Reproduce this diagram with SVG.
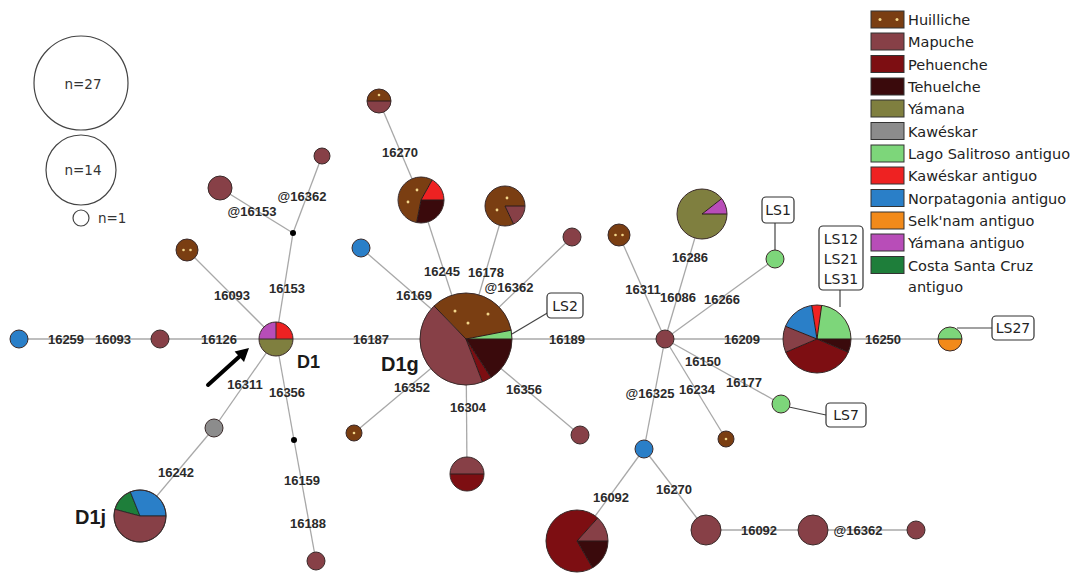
<svg xmlns="http://www.w3.org/2000/svg" width="1087" height="574" viewBox="0 0 1087 574">
<style>
.e{stroke:#a8a8a8;stroke-width:1.3;fill:none}
.b{stroke:#444;stroke-width:1.2;fill:none}
.n{stroke:#3a2a2a;stroke-width:1}
.hu{fill:#7a3e12}.ma{fill:#874047}.pe{fill:#7d0e12}.te{fill:#3a0a0c}.ya{fill:#7f7f3f}.ka{fill:#8c8c8c}
.ls{fill:#7dd67a}.kr{fill:#ee2222}.no{fill:#2a7fc8}.se{fill:#f28a1a}.ym{fill:#b84db8}.co{fill:#1e7e3a}
.dot{fill:#f3d68a}
.lb{font-family:"Liberation Sans",Arial,sans-serif;font-weight:bold;font-size:13px;fill:#2a2a2a;text-anchor:middle}
.hd{font-family:"Liberation Sans",Arial,sans-serif;font-weight:bold;fill:#1a1a1a}
.lg{font-family:"DejaVu Sans",Verdana,sans-serif;font-size:14.5px;fill:#222}
.bx{fill:#fff;stroke:#333;stroke-width:1.2}
.bt{font-family:"DejaVu Sans",Verdana,sans-serif;font-size:14px;fill:#222;text-anchor:middle}
.sz{fill:none;stroke:#444;stroke-width:1.2}
.szt{font-family:"DejaVu Sans",Verdana,sans-serif;font-size:13.5px;fill:#333}
</style>

<g id="size-legend">
<circle class="sz" cx="81" cy="83" r="47"/>
<text class="szt" x="83" y="89" text-anchor="middle">n=27</text>
<circle class="sz" cx="81" cy="170" r="35"/>
<text class="szt" x="83" y="175" text-anchor="middle">n=14</text>
<circle class="sz" cx="81" cy="218" r="8"/>
<text class="szt" x="98" y="223">n=1</text>
</g>

<g id="legend">
<rect class="hu" x="871" y="11" width="33" height="17" stroke="#333"/>
<circle class="dot" cx="880" cy="19.5" r="1.5"/><circle class="dot" cx="897" cy="19.5" r="1.5"/>
<rect class="ma" x="871" y="33" width="33" height="17" stroke="#333"/>
<rect class="pe" x="871" y="55.5" width="33" height="17" stroke="#333"/>
<rect class="te" x="871" y="78" width="33" height="17" stroke="#333"/>
<rect class="ya" x="871" y="100" width="33" height="17" stroke="#333"/>
<rect class="ka" x="871" y="122.5" width="33" height="17" stroke="#333"/>
<rect class="ls" x="871" y="145" width="33" height="17" stroke="#333"/>
<rect class="kr" x="871" y="167" width="33" height="17" stroke="#333"/>
<rect class="no" x="871" y="189.5" width="33" height="17" stroke="#333"/>
<rect class="se" x="871" y="212" width="33" height="17" stroke="#333"/>
<rect class="ym" x="871" y="234" width="33" height="17" stroke="#333"/>
<rect class="co" x="871" y="256.5" width="33" height="17" stroke="#333"/>
<text class="lg" x="908" y="25">Huilliche</text>
<text class="lg" x="908" y="47">Mapuche</text>
<text class="lg" x="908" y="69.5">Pehuenche</text>
<text class="lg" x="908" y="92">Tehuelche</text>
<text class="lg" x="908" y="114">Yámana</text>
<text class="lg" x="908" y="136.5">Kawéskar</text>
<text class="lg" x="908" y="159">Lago Salitroso antiguo</text>
<text class="lg" x="908" y="181">Kawéskar antiguo</text>
<text class="lg" x="908" y="203.5">Norpatagonia antiguo</text>
<text class="lg" x="908" y="226">Selk'nam antiguo</text>
<text class="lg" x="908" y="248">Yámana antiguo</text>
<text class="lg" x="908" y="270.5">Costa Santa Cruz</text>
<text class="lg" x="908" y="292">antiguo</text>
</g>

<g id="connectors">
<line class="e" x1="19" y1="339" x2="950" y2="339"/>
<line class="e" x1="276" y1="339" x2="293" y2="233"/>
<line class="e" x1="293" y1="233" x2="322" y2="156"/>
<line class="e" x1="293" y1="233" x2="220" y2="188"/>
<line class="e" x1="276" y1="339" x2="187" y2="250"/>
<line class="e" x1="276" y1="339" x2="214" y2="428"/>
<line class="e" x1="214" y1="428" x2="140" y2="516"/>
<line class="e" x1="276" y1="339" x2="294" y2="440"/>
<line class="e" x1="294" y1="440" x2="316" y2="561"/>
<line class="e" x1="466" y1="339" x2="361" y2="248"/>
<line class="e" x1="466" y1="339" x2="421" y2="200"/>
<line class="e" x1="421" y1="200" x2="379" y2="101"/>
<line class="e" x1="466" y1="339" x2="505" y2="206"/>
<line class="e" x1="466" y1="339" x2="572" y2="237"/>
<line class="e" x1="466" y1="339" x2="354" y2="433"/>
<line class="e" x1="466" y1="339" x2="467" y2="474"/>
<line class="e" x1="466" y1="339" x2="580" y2="435"/>
<line class="e" x1="665" y1="339" x2="619" y2="235"/>
<line class="e" x1="665" y1="339" x2="702" y2="214"/>
<line class="e" x1="665" y1="339" x2="775" y2="259"/>
<line class="e" x1="665" y1="339" x2="781" y2="404"/>
<line class="e" x1="665" y1="339" x2="726" y2="439"/>
<line class="e" x1="665" y1="339" x2="644" y2="449"/>
<line class="e" x1="644" y1="449" x2="577" y2="541"/>
<line class="e" x1="644" y1="449" x2="706" y2="530"/>
<line class="e" x1="706" y1="530" x2="916" y2="530"/>
<line class="b" x1="512" y1="334" x2="549" y2="312"/>
<line class="b" x1="775" y1="223" x2="775" y2="250"/>
<line class="b" x1="840" y1="290" x2="840" y2="307"/>
<line class="b" x1="957" y1="328" x2="992" y2="328"/>
<line class="b" x1="789" y1="407" x2="826" y2="415"/>
<circle cx="293" cy="233" r="3" fill="#000"/>
<circle cx="294" cy="440" r="3" fill="#000"/>
</g>

<g id="edge-labels">
<text class="lb" x="66" y="344">16259</text>
<text class="lb" x="113" y="344">16093</text>
<text class="lb" x="219" y="344">16126</text>
<text class="lb" x="232" y="300">16093</text>
<text class="lb" x="287" y="293">16153</text>
<text class="lb" x="252" y="216">@16153</text>
<text class="lb" x="302" y="201">@16362</text>
<text class="lb" x="245" y="389">16311</text>
<text class="lb" x="287" y="397">16356</text>
<text class="lb" x="176" y="477">16242</text>
<text class="lb" x="302" y="485">16159</text>
<text class="lb" x="308" y="528">16188</text>
<text class="lb" x="371" y="344">16187</text>
<text class="lb" x="567" y="344">16189</text>
<text class="lb" x="400" y="157">16270</text>
<text class="lb" x="414" y="300">16169</text>
<text class="lb" x="442" y="276">16245</text>
<text class="lb" x="486" y="277">16178</text>
<text class="lb" x="509" y="292">@16362</text>
<text class="lb" x="412" y="392">16352</text>
<text class="lb" x="468" y="412">16304</text>
<text class="lb" x="524" y="394">16356</text>
<text class="lb" x="643" y="294">16311</text>
<text class="lb" x="678" y="302">16086</text>
<text class="lb" x="722" y="304">16266</text>
<text class="lb" x="690" y="262">16286</text>
<text class="lb" x="742" y="344">16209</text>
<text class="lb" x="883" y="344">16250</text>
<text class="lb" x="703" y="366">16150</text>
<text class="lb" x="744" y="387">16177</text>
<text class="lb" x="650" y="398">@16325</text>
<text class="lb" x="697" y="394">16234</text>
<text class="lb" x="611" y="502">16092</text>
<text class="lb" x="674" y="494">16270</text>
<text class="lb" x="759" y="535">16092</text>
<text class="lb" x="858" y="535">@16362</text>
</g>

<g id="n-blue-left"><circle class="no n" cx="19" cy="339" r="9"/></g>
<g id="n-mapuche-left"><circle class="ma n" cx="160" cy="339" r="9"/></g>
<g id="n-D1">
<path class="ym" d="M276 339 L276 322 A17 17 0 0 0 259 339 Z"/>
<path class="kr" d="M276 339 L293 339 A17 17 0 0 0 276 322 Z"/>
<path class="ya" d="M276 339 L259 339 A17 17 0 0 0 293 339 Z"/>
<line x1="259" y1="339" x2="293" y2="339" stroke="#3a2a2a" stroke-width="1"/>
<line x1="276" y1="322" x2="276" y2="339" stroke="#3a2a2a" stroke-width="1"/>
<circle class="n" cx="276" cy="339" r="17" fill="none"/>
<text class="hd" x="297" y="368" font-size="18">D1</text>
</g>
<g id="n-322-156"><circle class="ma n" cx="322" cy="156" r="8"/></g>
<g id="n-220-188"><circle class="ma n" cx="220" cy="188" r="12"/></g>
<g id="n-187-250"><circle class="hu n" cx="187" cy="250" r="11"/>
<circle class="dot" cx="183.5" cy="250" r="1.3"/><circle class="dot" cx="190.5" cy="250" r="1.3"/></g>
<g id="n-gray"><circle class="ka n" cx="214" cy="428" r="9"/></g>
<g id="n-D1j">
<path class="co" d="M140 516 L130.3 491.9 A26 26 0 0 0 114.9 509.3 Z" stroke="#222" stroke-width="0.8"/>
<path class="no" d="M140 516 L166 516 A26 26 0 0 0 130.3 491.9 Z" stroke="#222" stroke-width="0.8"/>
<path class="ma" d="M140 516 L114.9 509.3 A26 26 0 1 0 166 516 Z" stroke="#222" stroke-width="0.8"/>
<circle class="n" cx="140" cy="516" r="26" fill="none"/>
<text class="hd" x="75" y="524" font-size="20">D1j</text>
</g>
<g id="n-316-561"><circle class="ma n" cx="316" cy="561" r="9"/></g>

<g id="n-D1g">
<path class="ls" d="M466 339 L512 339 A46 46 0 0 0 511.2 330.2 Z"/>
<path class="hu" d="M466 339 L511.2 330.2 A46 46 0 0 0 434.0 305.9 Z"/>
<path class="ma" d="M466 339 L434.0 305.9 A46 46 0 0 0 482.5 382.0 Z"/>
<path class="pe" d="M466 339 L482.5 382.0 A46 46 0 0 0 491.1 377.6 Z"/>
<path class="te" d="M466 339 L491.1 377.6 A46 46 0 0 0 512 339 Z"/>
<path d="M512 339 L466 339 L511.2 330.2 M434.0 305.9 L466 339 L482.5 382.0 M466 339 L491.1 377.6" stroke="#2a1a1a" stroke-width="1" fill="none"/>
<circle class="n" cx="466" cy="339" r="46" fill="none"/>
<circle class="dot" cx="455" cy="311" r="1.5"/><circle class="dot" cx="488" cy="314" r="1.5"/><circle class="dot" cx="468" cy="323" r="1.5"/>
<text class="hd" x="381" y="371" font-size="20">D1g</text>
</g>
<g id="n-blue-361"><circle class="no n" cx="361" cy="248" r="9"/></g>
<g id="n-421-200">
<path class="kr" d="M421 200 L444 200 A23 23 0 0 0 432.2 179.9 Z"/>
<path class="hu" d="M421 200 L432.2 179.9 A23 23 0 1 0 416.6 222.6 Z"/>
<path class="te" d="M421 200 L416.6 222.6 A23 23 0 0 0 444 200 Z"/>
<path d="M444 200 L421 200 L432.2 179.9 M421 200 L416.6 222.6" stroke="#2a1a1a" stroke-width="1" fill="none"/>
<circle class="n" cx="421" cy="200" r="23" fill="none"/>
<circle class="dot" cx="417" cy="190" r="1.4"/><circle class="dot" cx="408" cy="202" r="1.4"/>
</g>
<g id="n-379-101">
<path class="hu" d="M367 101 A12 12 0 0 1 391 101 Z"/>
<path class="ma" d="M367 101 A12 12 0 0 0 391 101 Z"/>
<line x1="367" y1="101" x2="391" y2="101" stroke="#2a1a1a"/>
<circle class="n" cx="379" cy="101" r="12" fill="none"/>
<circle class="dot" cx="379" cy="95" r="1.3"/>
</g>
<g id="n-505-206">
<path class="ma" d="M505 206 L513.5 224.1 A20 20 0 0 0 525 206 Z"/>
<path class="hu" d="M505 206 L525 206 A20 20 0 1 0 513.5 224.1 Z"/>
<path d="M525 206 L505 206 L513.5 224.1" stroke="#2a1a1a" stroke-width="1" fill="none"/>
<circle class="n" cx="505" cy="206" r="20" fill="none"/>
<circle class="dot" cx="507" cy="198" r="1.4"/><circle class="dot" cx="497" cy="210" r="1.4"/>
</g>
<g id="n-572-237"><circle class="ma n" cx="572" cy="237" r="9"/></g>
<g id="n-354-433"><circle class="hu n" cx="354" cy="433" r="8"/><circle class="dot" cx="354" cy="433" r="1.3"/></g>
<g id="n-467-474">
<path class="ma" d="M450 474 A17 17 0 0 1 484 474 Z"/>
<path class="pe" d="M450 474 A17 17 0 0 0 484 474 Z"/>
<line x1="450" y1="474" x2="484" y2="474" stroke="#2a1a1a"/>
<circle class="n" cx="467" cy="474" r="17" fill="none"/>
</g>
<g id="n-580-435"><circle class="ma n" cx="580" cy="435" r="9"/></g>
<g id="n-LS2"><rect class="bx" x="547" y="293" width="36" height="25" rx="4"/><text class="bt" x="565" y="311">LS2</text></g>

<g id="n-hub"><circle class="ma n" cx="665" cy="339" r="9"/></g>
<g id="n-619-235"><circle class="hu n" cx="619" cy="235" r="11"/>
<circle class="dot" cx="615.5" cy="235" r="1.3"/><circle class="dot" cx="622.5" cy="235" r="1.3"/></g>
<g id="n-702-214">
<path class="ym" d="M702 214 L727 214 A25 25 0 0 0 721.7 198.6 Z"/>
<path class="ya" d="M702 214 L721.7 198.6 A25 25 0 1 0 727 214 Z"/>
<path d="M727 214 L702 214 L721.7 198.6" stroke="#2a1a1a" stroke-width="1" fill="none"/>
<circle class="n" cx="702" cy="214" r="25" fill="none"/>
</g>
<g id="n-LS1"><circle class="ls n" cx="775" cy="259" r="9"/>
<rect class="bx" x="762" y="197" width="32" height="26" rx="4"/><text class="bt" x="778" y="215">LS1</text></g>
<g id="n-cluster">
<path class="ls" d="M817 339 L851 339 A34 34 0 0 0 821.7 305.3 Z"/>
<path class="kr" d="M817 339 L821.7 305.3 A34 34 0 0 0 811.7 305.4 Z"/>
<path class="no" d="M817 339 L811.7 305.4 A34 34 0 0 0 785.5 326.3 Z"/>
<path class="ma" d="M817 339 L785.5 326.3 A34 34 0 0 0 785.7 352.3 Z"/>
<path class="pe" d="M817 339 L785.7 352.3 A34 34 0 0 0 848.3 352.3 Z"/>
<path class="te" d="M817 339 L848.3 352.3 A34 34 0 0 0 851 339 Z"/>
<path d="M851 339 L817 339 L821.7 305.3 M811.7 305.4 L817 339 L785.5 326.3 M785.7 352.3 L817 339 L848.3 352.3" stroke="#2a1a1a" stroke-width="1" fill="none"/>
<circle class="n" cx="817" cy="339" r="34" fill="none"/>
<rect class="bx" x="819" y="226" width="44" height="64" rx="4"/>
<text class="bt" x="841" y="244">LS12</text>
<text class="bt" x="841" y="264">LS21</text>
<text class="bt" x="841" y="284">LS31</text>
</g>
<g id="n-LS27">
<path class="ls" d="M938 339 A12 12 0 0 1 962 339 Z"/>
<path class="se" d="M938 339 A12 12 0 0 0 962 339 Z"/>
<line x1="938" y1="339" x2="962" y2="339" stroke="#2a1a1a"/>
<circle class="n" cx="950" cy="339" r="12" fill="none"/>
<rect class="bx" x="992" y="316" width="42" height="24" rx="4"/><text class="bt" x="1013" y="333">LS27</text>
</g>
<g id="n-LS7"><circle class="ls n" cx="781" cy="404" r="9"/>
<rect class="bx" x="826" y="403" width="40" height="24" rx="4"/><text class="bt" x="846" y="420">LS7</text></g>
<g id="n-726-439"><circle class="hu n" cx="726" cy="439" r="8"/><circle class="dot" cx="726" cy="439" r="1.3"/></g>
<g id="n-blue-644"><circle class="no n" cx="644" cy="449" r="9"/></g>
<g id="n-577-541">
<path class="ma" d="M577 541 L608 541 A31 31 0 0 0 597.7 518.0 Z"/>
<path class="pe" d="M577 541 L597.7 518.0 A31 31 0 1 0 592.5 567.8 Z"/>
<path class="te" d="M577 541 L592.5 567.8 A31 31 0 0 0 608 541 Z"/>
<path d="M608 541 L577 541 L597.7 518.0 M577 541 L592.5 567.8" stroke="#2a1a1a" stroke-width="1" fill="none"/>
<circle class="n" cx="577" cy="541" r="31" fill="none"/>
</g>
<g id="n-706-530"><circle class="ma n" cx="706" cy="530" r="15"/></g>
<g id="n-813-530"><circle class="ma n" cx="813" cy="530" r="15"/></g>
<g id="n-916-530"><circle class="ma n" cx="916" cy="530" r="9"/></g>

<g id="arrow">
<line x1="208" y1="385" x2="240" y2="356" stroke="#000" stroke-width="4" stroke-linecap="round"/>
<polygon points="249,348 244,362 234.6,351.5" fill="#000"/>
</g>
</svg>
